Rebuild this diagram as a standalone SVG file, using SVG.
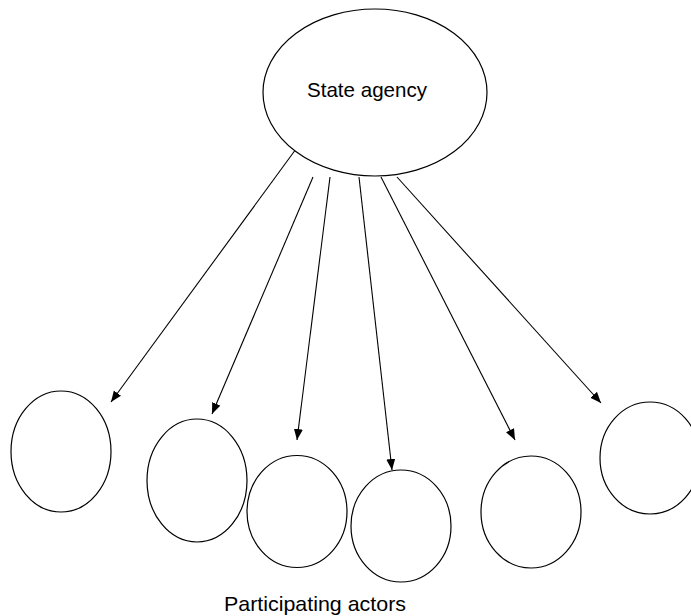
<svg xmlns="http://www.w3.org/2000/svg" width="691" height="616" viewBox="0 0 691 616">
  <style>
    .node { fill: #ffffff; stroke: #000000; stroke-width: 1.2; }
    .link { fill: none; stroke: #000000; stroke-width: 1.1; marker-end: url(#arrow); }
    .label { font-family: "Liberation Sans", Arial, sans-serif; font-size: 21px; fill: #000000; text-anchor: middle; }
  </style>
  <defs>
    <marker id="arrow" markerUnits="userSpaceOnUse" markerWidth="12" markerHeight="10" refX="11" refY="4.5" orient="auto">
      <path d="M0,0 L11,4.5 L0,9 Z" fill="#000000"/>
    </marker>
  </defs>
  <rect width="691" height="616" fill="#ffffff"/>

  <g id="connectors">
    <line class="link" x1="296" y1="149" x2="111" y2="402"/>
    <line class="link" x1="313" y1="177" x2="212" y2="414"/>
    <line class="link" x1="330" y1="177" x2="297" y2="440"/>
    <line class="link" x1="359" y1="177" x2="392" y2="470"/>
    <line class="link" x1="381" y1="177" x2="515" y2="440"/>
    <line class="link" x1="397" y1="177" x2="601" y2="403"/>
  </g>

  <g id="state-agency">
    <ellipse class="node" cx="375" cy="92.5" rx="112" ry="83.5"/>
    <text class="label" x="367" y="97" textLength="120" lengthAdjust="spacingAndGlyphs">State agency</text>
  </g>

  <g id="actor-1"><ellipse class="node" cx="61" cy="451.5" rx="50" ry="60.5"/></g>
  <g id="actor-2"><ellipse class="node" cx="197" cy="480.5" rx="50" ry="61.5"/></g>
  <g id="actor-3"><ellipse class="node" cx="297" cy="511.5" rx="50" ry="56"/></g>
  <g id="actor-4"><ellipse class="node" cx="401" cy="526" rx="50" ry="56"/></g>
  <g id="actor-5"><ellipse class="node" cx="531" cy="512" rx="50" ry="56"/></g>
  <g id="actor-6"><ellipse class="node" cx="650" cy="458" rx="50" ry="56"/></g>

  <g id="caption">
    <text class="label" x="315" y="611" textLength="182" lengthAdjust="spacingAndGlyphs">Participating actors</text>
  </g>
</svg>
